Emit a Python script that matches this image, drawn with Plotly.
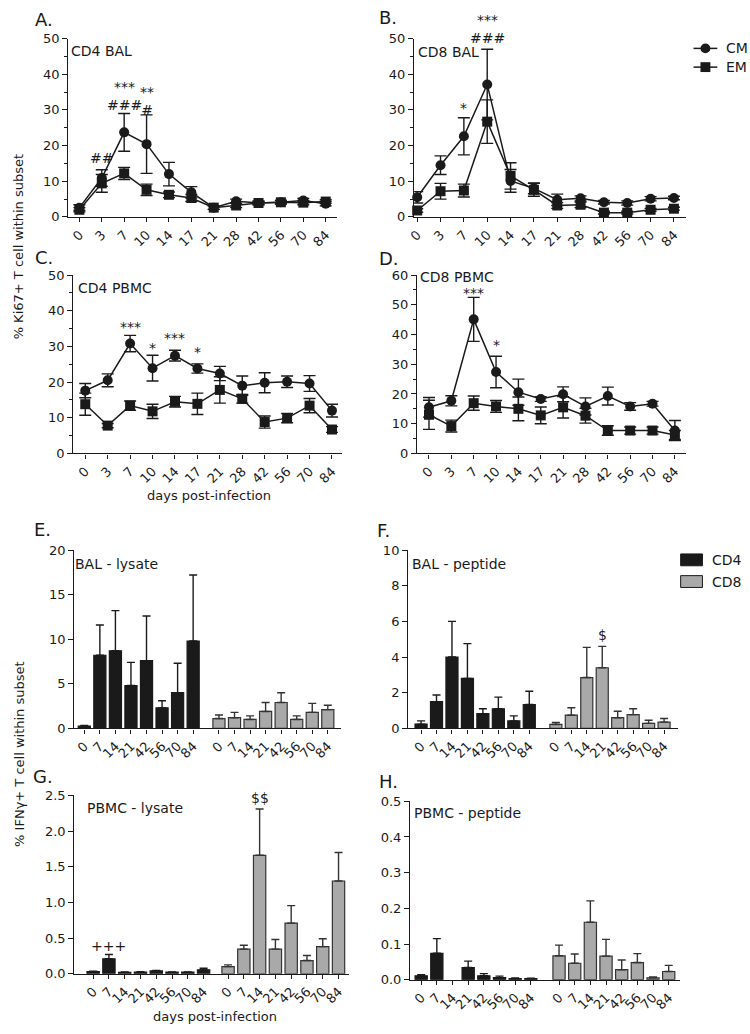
import plotly.graph_objects as go

W, H = 750, 1034

# ---- data ----
days_line = ["0", "3", "7", "10", "14", "17", "21", "28", "42", "56", "70", "84"]
days_bar = ["0", "7", "14", "21", "42", "56", "70", "84"]

# Ki67+ (% of subset), mean and SEM
a_cm = [2.6, 10.9, 23.7, 20.4, 12.0, 6.9, 2.6, 4.4, 3.9, 4.1, 4.6, 3.7]
a_cm_err = [0.8, 2.3, 5.3, 8.2, 3.3, 1.6, 0.5, 0.6, 0.5, 0.5, 0.6, 0.6]
a_em = [2.0, 9.4, 12.2, 7.6, 6.2, 5.3, 2.6, 3.2, 3.9, 4.1, 4.0, 4.3]
a_em_err = [0.6, 2.5, 1.7, 1.6, 0.8, 1.0, 0.5, 0.6, 0.5, 0.5, 0.6, 0.5]

b_cm = [5.5, 14.5, 22.6, 37.1, 10.1, 8.0, 4.8, 5.2, 4.1, 3.9, 5.1, 5.3]
b_cm_err = [1.6, 2.6, 5.2, 9.9, 3.2, 1.5, 1.6, 0.7, 0.5, 0.6, 0.6, 0.5]
b_em = [1.8, 7.2, 7.4, 26.7, 11.5, 7.6, 3.2, 3.4, 1.2, 1.2, 2.0, 2.3]
b_em_err = [0.5, 2.2, 1.8, 6.1, 3.7, 1.8, 0.8, 0.8, 0.4, 0.4, 0.4, 0.4]

c_cm = [17.6, 20.5, 30.8, 23.9, 27.4, 23.8, 22.4, 19.0, 19.8, 20.1, 19.6, 12.0]
c_cm_err = [2.0, 1.8, 2.3, 3.6, 1.5, 1.3, 2.0, 2.7, 2.8, 1.6, 2.2, 1.8]
c_em = [13.8, 7.8, 13.4, 11.8, 14.5, 13.9, 17.8, 15.3, 8.8, 9.9, 13.4, 6.7]
c_em_err = [3.1, 0.6, 1.3, 2.0, 1.5, 3.0, 3.7, 1.2, 1.7, 1.3, 2.0, 0.8]

d_cm = [15.5, 17.7, 45.1, 27.4, 20.6, 18.3, 19.9, 15.8, 19.3, 15.8, 16.7, 7.7]
d_cm_err = [3.3, 1.7, 7.4, 5.3, 4.4, 0.8, 2.5, 2.9, 3.0, 1.3, 0.8, 3.4]
d_em = [13.0, 9.2, 16.9, 15.8, 15.0, 12.8, 15.5, 12.7, 7.7, 7.7, 7.7, 6.2]
d_em_err = [4.9, 2.0, 2.4, 2.0, 4.0, 2.8, 3.6, 2.5, 1.6, 1.2, 1.2, 1.5]

# IFNy+ (% of subset), mean and SEM
e_cd4 = [0.26, 8.2, 8.7, 4.8, 7.6, 2.3, 4.0, 9.8]
e_cd4_err = [0.08, 3.4, 4.5, 2.6, 5.0, 0.8, 3.3, 7.4]
e_cd8 = [1.1, 1.2, 1.0, 1.9, 2.9, 1.0, 1.8, 2.1]
e_cd8_err = [0.4, 0.6, 0.4, 1.0, 1.1, 0.4, 1.0, 0.5]

f_cd4 = [0.24, 1.5, 4.0, 2.8, 0.83, 1.1, 0.42, 1.34]
f_cd4_err = [0.18, 0.37, 2.0, 1.95, 0.27, 0.65, 0.28, 0.74]
f_cd8 = [0.22, 0.74, 2.85, 3.4, 0.6, 0.77, 0.28, 0.35]
f_cd8_err = [0.11, 0.42, 1.69, 1.2, 0.36, 0.33, 0.18, 0.2]

g_cd4 = [0.032, 0.21, 0.02, 0.023, 0.04, 0.023, 0.023, 0.055]
g_cd4_err = [0.005, 0.06, 0.004, 0.005, 0.006, 0.004, 0.004, 0.023]
g_cd8 = [0.10, 0.345, 1.66, 0.345, 0.71, 0.185, 0.38, 1.30]
g_cd8_err = [0.025, 0.055, 0.65, 0.135, 0.245, 0.07, 0.11, 0.40]

h_cd4 = [0.011, 0.074, None, 0.034, 0.011, 0.0055, 0.003, 0.003]
h_cd4_err = [0.003, 0.041, None, 0.018, 0.006, 0.0045, 0.002, 0.001]
h_cd8 = [0.067, 0.046, 0.161, 0.066, 0.028, 0.048, 0.005, 0.023]
h_cd8_err = [0.03, 0.026, 0.06, 0.047, 0.027, 0.025, 0.003, 0.017]

FONT = "DejaVu Sans, Arial, sans-serif"
INK = "#1a1a1a"
GREY = "#a9a9a9"


def px_x(x0, x1):
    return [x0 / W, x1 / W]


def px_y(top, bottom):
    return [1 - bottom / H, 1 - top / H]


fig = go.Figure()

# panel frames: (name, x pixels, y pixels, x range, y range, dtick, series...)
line_panels = [
    ("A", (62, 333), (32, 213), (-0.49, 11.5), (0, 50), 10, a_cm, a_cm_err, a_em, a_em_err),
    ("B", (411, 685), (32, 213), (-0.13, 11.5), (0, 50), 10, b_cm, b_cm_err, b_em, b_em_err),
    ("C", (67, 338), (272, 453), (-0.53, 11.44), (0, 50), 10, c_cm, c_cm_err, c_em, c_em_err),
    ("D", (414, 685), (272, 453), (-0.53, 11.48), (0, 60), 10, d_cm, d_cm_err, d_em, d_em_err),
]
bar_panels = [
    ("E", (68, 337), (551, 732), (-0.64, 16.5), (0, 20), 5, "", 8.66, e_cd4, e_cd4_err, e_cd8, e_cd8_err),
    ("F", (405, 677), (551, 732), (-0.83, 16.6), (0, 10), 2, "", 8.72, f_cd4, f_cd4_err, f_cd8, f_cd8_err),
    ("G", (68, 345), (800, 981), (-1.19, 16.2), (0, 2.5), 0.5, ".1f", 8.55, g_cd4, g_cd4_err, g_cd8, g_cd8_err),
    ("H", (407, 679), (806, 987), (-0.7, 16.5), (0, 0.5), 0.1, ".1f", 8.8, h_cd4, h_cd4_err, h_cd8, h_cd8_err),
]

axis_common = dict(
    showline=True, linecolor=INK, linewidth=1.4, showgrid=False, zeroline=False,
    ticks="outside", ticklen=5, tickwidth=1.3, tickcolor=INK,
    tickfont=dict(family=FONT, size=13, color=INK),
)

layout_axes = {}
n = 0
for name, xp, yp, xr, yr, dt, cm, cm_err, em, em_err in line_panels:
    n += 1
    xa, ya = f"x{n}", f"y{n}"
    idx = list(range(len(days_line)))
    for vals, errs, sym, nm in [(cm, cm_err, "circle", "CM"), (em, em_err, "square", "EM")]:
        fig.add_trace(go.Scatter(
            x=idx, y=vals, xaxis=xa, yaxis=ya, mode="lines+markers", name=nm,
            line=dict(color=INK, width=1.5),
            marker=dict(symbol=sym, size=10, color=INK),
            error_y=dict(type="data", array=errs, color=INK, thickness=1.4, width=6),
            cliponaxis=False, showlegend=False,
        ))
    layout_axes[f"xaxis{n}"] = dict(
        axis_common, domain=px_x(*xp), anchor=ya, range=list(xr),
        tickmode="array", tickvals=idx, ticktext=days_line, tickangle=-45, ticklen=4,
    )
    layout_axes[f"yaxis{n}"] = dict(
        axis_common, domain=px_y(*yp), anchor=xa, range=list(yr), dtick=dt,
        minor=dict(dtick=dt / 2, ticks="outside", ticklen=3, tickwidth=1.2, tickcolor=INK),
    )

for name, xp, yp, xr, yr, dt, fmt, off, cd4, cd4_err, cd8, cd8_err in bar_panels:
    n += 1
    xa, ya = f"x{n}", f"y{n}"
    pos4 = [i for i in range(len(days_bar))]
    pos8 = [off + i for i in range(len(days_bar))]
    fig.add_trace(go.Bar(
        x=pos4, y=cd4, xaxis=xa, yaxis=ya, width=0.78, name="CD4",
        marker=dict(color=INK, line=dict(color=INK, width=1.2)),
        error_y=dict(type="data", array=cd4_err, arrayminus=[0] * len(cd4), symmetric=False,
                     color=INK, thickness=1.4, width=4),
        showlegend=False,
    ))
    fig.add_trace(go.Bar(
        x=pos8, y=cd8, xaxis=xa, yaxis=ya, width=0.78, name="CD8",
        marker=dict(color=GREY, line=dict(color="#333333", width=1.2)),
        error_y=dict(type="data", array=cd8_err, arrayminus=[0] * len(cd8), symmetric=False,
                     color="#333333", thickness=1.4, width=4),
        showlegend=False,
    ))
    layout_axes[f"xaxis{n}"] = dict(
        axis_common, domain=px_x(*xp), anchor=ya, range=list(xr),
        tickmode="array", tickvals=pos4 + pos8, ticktext=days_bar + days_bar,
        tickangle=-45, ticklen=4,
    )
    layout_axes[f"yaxis{n}"] = dict(
        axis_common, domain=px_y(*yp), anchor=xa, range=list(yr), dtick=dt, tickformat=fmt,
    )

annotations = []


def text(x, y, s, size=13, xanchor="center", angle=0, xref="paper", yref="paper"):
    if xref == "paper":
        x = x / W
    if yref == "paper":
        y = 1 - y / H
    annotations.append(dict(
        x=x, y=y, xref=xref, yref=yref, text=s, showarrow=False, xanchor=xanchor,
        yanchor="middle", textangle=angle, font=dict(family=FONT, size=size, color=INK),
    ))


# panel letters
for s, x, y in [("A.", 26, 13), ("B.", 373, 11), ("C.", 26, 254), ("D.", 373, 255),
                ("E.", 25, 530), ("F.", 371, 531), ("G.", 24, 781), ("H.", 373, 786)]:
    text(x, y, s, size=18, xanchor="left")

# panel titles
for s, x, y in [("CD4 BAL", 63, 45), ("CD8 BAL", 413, 46), ("CD4 PBMC", 70, 285),
                ("CD8 PBMC", 415, 274), ("BAL - lysate", 67, 565), ("BAL - peptide", 407, 565),
                ("PBMC - lysate", 79, 813), ("PBMC - peptide", 409, 818)]:
    text(x, y, s, size=14, xanchor="left")

# axis titles
text(12, 243, "% Ki67+ T cell within subset", size=13, angle=-90)
text(12, 758, "% IFNγ+ T cell within subset", size=13, angle=-90)
text(204, 496, "days post-infection", size=13)
text(210, 1024, "days post-infection", size=13)

# significance marks (axis index, category position, y value, label)
marks = [
    (1, 1, 16.4, "##"), (1, 2, 34.0, "***<br>###"), (1, 3, 32.6, "**<br>#"),
    (2, 2, 30.6, "*"),
    (3, 2, 35.3, "***"), (3, 3, 29.5, "*"), (3, 4, 32.3, "***"), (3, 5, 28.4, "*"),
    (4, 2, 54.0, "***"), (4, 3, 36.4, "*"),
    (6, 8.72 + 3, 5.25, "$"),
    (7, 1, 0.387, "+++"), (7, 8.55 + 2, 2.46, "$$"),
]
for ax, x, y, s in marks:
    text(x, y, s, size=14, xref=f"x{ax}", yref=f"y{ax}")
# B day-10 marks sit above the axis top, so they are placed on the page
text(3, 22, "***<br>###", size=14, xref="x2")

# legends
shapes = []
for lbl, y, sym in [("CM", 42, "circle"), ("EM", 61, "square")]:
    shapes.append(dict(type="line", xref="paper", yref="paper", x0=693 / W, x1=717 / W,
                       y0=1 - y / H, y1=1 - y / H, line=dict(color=INK, width=1.5)))
    shapes.append(dict(type=sym if sym == "circle" else "rect", xref="paper", yref="paper",
                       x0=(705 - 5) / W, x1=(705 + 5) / W, y0=1 - (y + 5) / H, y1=1 - (y - 5) / H,
                       fillcolor=INK, line=dict(color=INK, width=0)))
    text(724, y, lbl, size=14, xanchor="left")

for lbl, y, col in [("CD4", 561, INK), ("CD8", 583, GREY)]:
    shapes.append(dict(type="rect", xref="paper", yref="paper", x0=680 / W, x1=702 / W,
                       y0=1 - (y + 6) / H, y1=1 - (y - 6) / H, fillcolor=col,
                       line=dict(color=INK, width=1)))
    text(710, y, lbl, size=14, xanchor="left")

fig.update_layout(
    width=W, height=H, margin=dict(l=0, r=0, t=0, b=0),
    paper_bgcolor="white", plot_bgcolor="white", barmode="overlay",
    annotations=annotations, shapes=shapes, showlegend=False,
    **layout_axes,
)

fig.write_html("out.html", config={"displayModeBar": False},
               post_script="document.body.style.margin='0px';")
